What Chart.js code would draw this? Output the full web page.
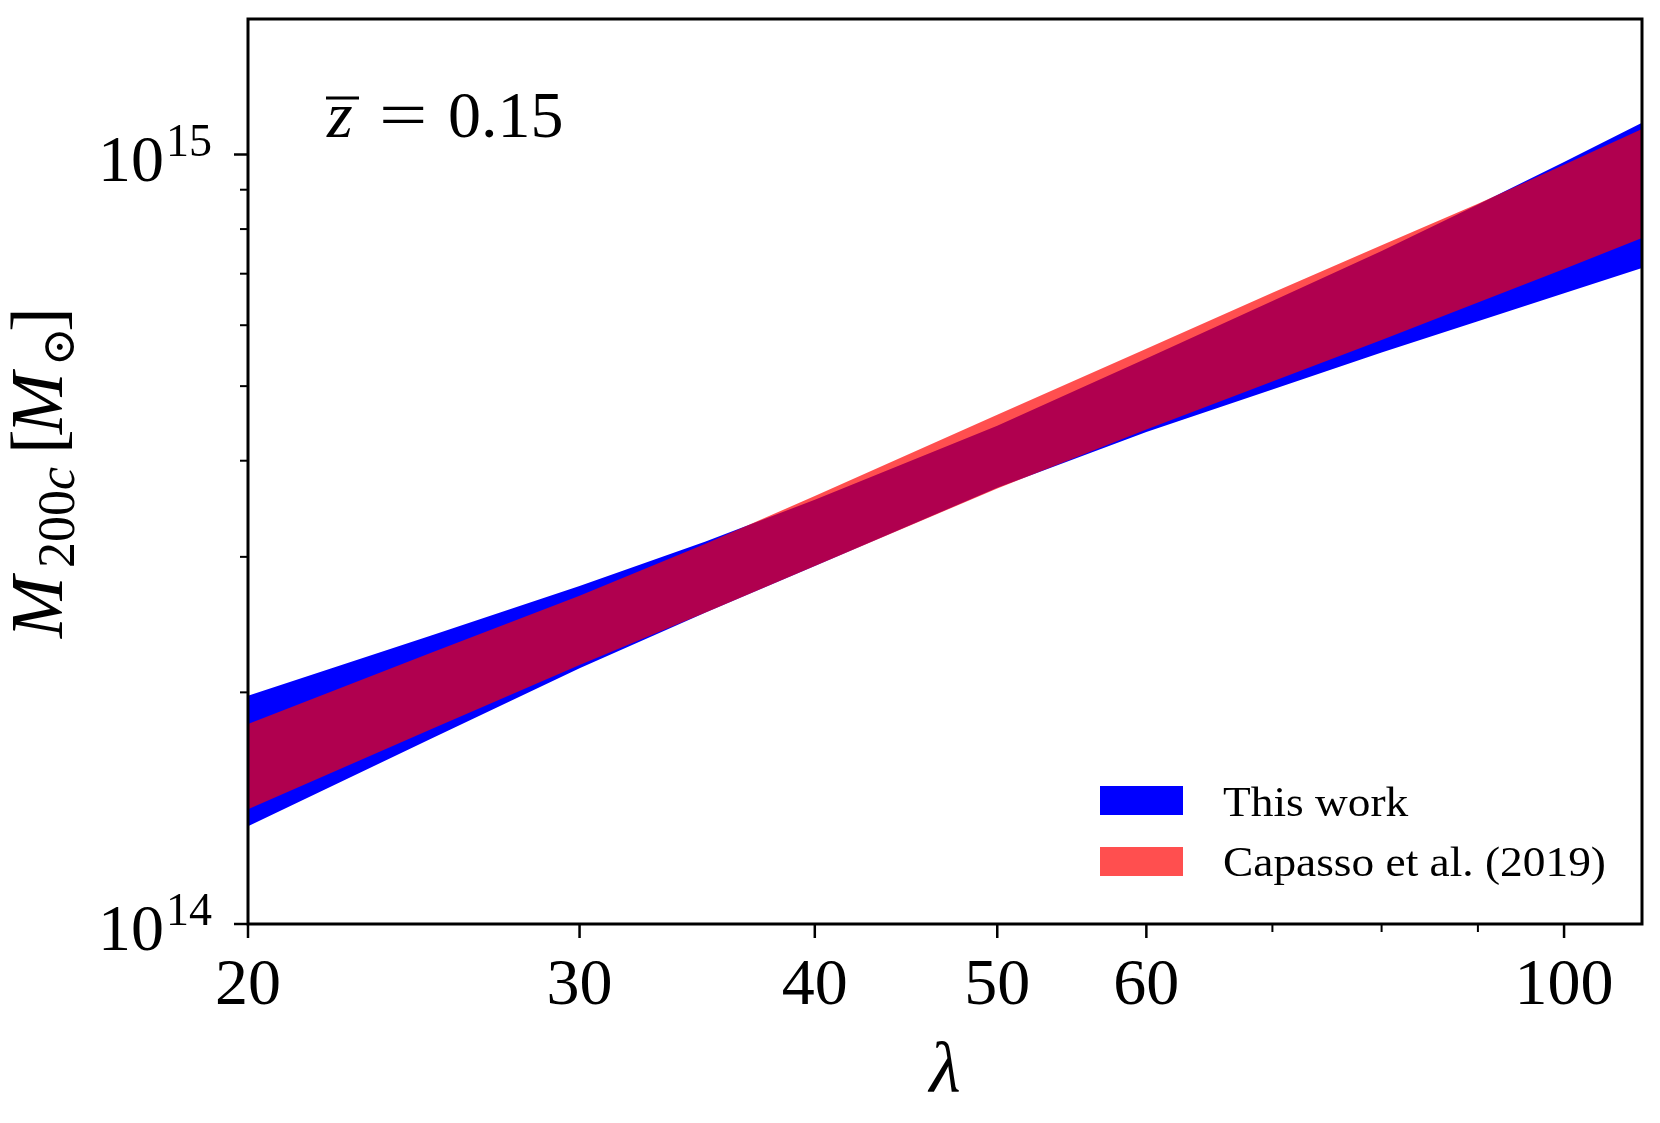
<!DOCTYPE html>
<html>
<head>
<meta charset="utf-8">
<script src="https://cdn.jsdelivr.net/npm/chart.js@4.4.1/dist/chart.umd.min.js"></script>
<style>
  html, body { margin: 0; padding: 0; background: #fff; }
  #wrap { width: 1660px; height: 1123px; position: relative; }
</style>
</head>
<body>
<div id="wrap"><canvas id="chart_mass_richness"></canvas></div>
<script>
// richness values where the band edges were read
const lambdaValues = [20, 25, 30, 35, 40, 50, 60, 70, 80, 90, 100, 110];

// M200c [Msun], upper / lower edge of each band
const thisWorkUpper = [1.98e14, 2.37e14, 2.75e14, 3.14e14, 3.56e14, 4.44e14, 5.43e14, 6.45e14, 7.49e14, 8.61e14, 9.78e14, 1.10e15];
const thisWorkLower = [1.34e14, 1.74e14, 2.15e14, 2.54e14, 2.92e14, 3.69e14, 4.36e14, 4.95e14, 5.53e14, 6.07e14, 6.60e14, 7.12e14];
const capassoUpper = [1.82e14, 2.25e14, 2.67e14, 3.12e14, 3.60e14, 4.59e14, 5.59e14, 6.61e14, 7.62e14, 8.63e14, 9.70e14, 1.079e15];
const capassoLower = [1.41e14, 1.79e14, 2.17e14, 2.54e14, 2.92e14, 3.68e14, 4.39e14, 5.07e14, 5.74e14, 6.42e14, 7.10e14, 7.79e14];

// ticks
const xMajorTicks = [20, 30, 40, 50, 60, 100];
const xMinorTicks = [70, 80, 90];
const yMajorTicks = [1e14, 1e15];
const yMinorTicks = [2e14, 3e14, 4e14, 5e14, 6e14, 7e14, 8e14, 9e14];

const SERIF = "'Liberation Serif', 'DejaVu Serif', serif";
const BLUE = '#0000ff';
const RED = 'rgba(255, 0, 0, 0.69)';

function pts(arr) {
    return lambdaValues.map(function (l, i) { return { x: l, y: arr[i] }; });
}

function bandEdge(label, arr, color, fill, order) {
    return {
        label: label,
        data: pts(arr),
        backgroundColor: color,
        borderColor: 'transparent',
        borderWidth: 0,
        pointRadius: 0,
        tension: 0,
        fill: fill,
        order: order,
    };
}

// text squeezed/stretched sideways (CM is wider than Times)
function wideText(ctx, txt, x, y, sx) {
    ctx.save();
    ctx.translate(x, y);
    ctx.scale(sx, 1);
    ctx.fillText(txt, 0, 0);
    ctx.restore();
}

// frame, ticks, labels, legend and the z annotation
const decorations = {
    id: 'decorations',
    afterDraw(chart) {
        const ctx = chart.ctx;
        const a = chart.chartArea;
        const x = chart.scales.x;
        const y = chart.scales.y;
        ctx.save();
        ctx.fillStyle = '#000';
        ctx.strokeStyle = '#000';

        // frame
        ctx.lineWidth = 3;
        ctx.strokeRect(a.left, a.top, a.right - a.left, a.bottom - a.top);

        // x ticks
        function xTick(v, len, w) {
            const px = x.getPixelForValue(v);
            ctx.lineWidth = w;
            ctx.beginPath();
            ctx.moveTo(px, a.bottom);
            ctx.lineTo(px, a.bottom + len);
            ctx.stroke();
        }
        xMajorTicks.forEach(function (v) { xTick(v, 14, 2.5); });
        xMinorTicks.forEach(function (v) { xTick(v, 8, 2); });

        // y ticks
        function yTick(v, len, w) {
            const py = y.getPixelForValue(v);
            ctx.lineWidth = w;
            ctx.beginPath();
            ctx.moveTo(a.left, py);
            ctx.lineTo(a.left - len, py);
            ctx.stroke();
        }
        yMajorTicks.forEach(function (v) { yTick(v, 14, 2.5); });
        yMinorTicks.forEach(function (v) { yTick(v, 8, 2); });

        // x tick labels
        ctx.font = '66px ' + SERIF;
        ctx.textAlign = 'center';
        ctx.textBaseline = 'alphabetic';
        xMajorTicks.forEach(function (v) {
            ctx.fillText(String(v), x.getPixelForValue(v), a.bottom + 80);
        });

        // y tick labels 10^n
        yMajorTicks.forEach(function (v) {
            const py = y.getPixelForValue(v);
            ctx.font = '66px ' + SERIF;
            ctx.textAlign = 'right';
            ctx.fillText('10', 164, py + 26);
            ctx.font = '46px ' + SERIF;
            ctx.textAlign = 'left';
            ctx.fillText(String(Math.round(Math.log10(v))), 166, py + 1);
        });

        // x title
        ctx.font = 'italic 72px ' + SERIF;
        ctx.textAlign = 'center';
        ctx.fillText('\u03bb', (a.left + a.right) / 2, 1092);

        // y title, rotated
        ctx.save();
        ctx.translate(62, 638);
        ctx.rotate(-Math.PI / 2);
        ctx.textAlign = 'left';
        ctx.font = 'italic 74px ' + SERIF;
        ctx.fillText('M', 0, 0);
        ctx.font = '52px ' + SERIF;
        ctx.fillText('200', 70, 12);
        let w200 = ctx.measureText('200').width;
        ctx.font = 'italic 52px ' + SERIF;
        ctx.fillText('c', 70 + w200, 12);
        ctx.font = '74px ' + SERIF;
        ctx.fillText('[', 184, 0);
        ctx.font = 'italic 74px ' + SERIF;
        ctx.fillText('M', 204, 0);
        ctx.font = '46px ' + SERIF;
        ctx.fillText('\u2299', 272, 12);
        ctx.font = '74px ' + SERIF;
        ctx.fillText(']', 306, 0);
        ctx.restore();

        // annotation z-bar = 0.15
        ctx.textAlign = 'left';
        ctx.font = 'italic 66px ' + SERIF;
        ctx.fillText('z', 327, 137);
        ctx.lineWidth = 3;
        ctx.beginPath();
        ctx.moveTo(326, 98);
        ctx.lineTo(359, 98);
        ctx.stroke();
        ctx.font = '66px ' + SERIF;
        wideText(ctx, '=', 379, 137, 1.3);
        ctx.fillText('0.15', 448, 137);

        // legend
        const entries = [
            { ds: chart.data.datasets[2], top: 786, base: 816 },
            { ds: chart.data.datasets[0], top: 847, base: 876 },
        ];
        ctx.font = '42px ' + SERIF;
        entries.forEach(function (e) {
            ctx.fillStyle = e.ds.backgroundColor;
            ctx.fillRect(1100, e.top, 83, 29);
            ctx.fillStyle = '#000';
            wideText(ctx, e.ds.label, 1223, e.base, 1.08);
        });
        ctx.restore();
    }
};

new Chart("chart_mass_richness", {
    type: "line",
    data: {
        datasets: [
            bandEdge("Capasso et al. (2019)", capassoUpper, RED, '+1', 1),
            bandEdge("Capasso et al. (2019) lower", capassoLower, RED, false, 1),
            bandEdge("This work", thisWorkUpper, BLUE, '+1', 2),
            bandEdge("This work lower", thisWorkLower, BLUE, false, 2),
        ],
    },
    options: {
        responsive: true,
        maintainAspectRatio: false,
        animation: false,
        devicePixelRatio: 1,
        layout: { padding: { top: 19, right: 18, left: 0, bottom: 0 } },
        plugins: {
            legend: { display: false },
            tooltip: { enabled: false },
            title: { display: false },
        },
        scales: {
            x: {
                type: "logarithmic",
                min: 20,
                max: 110,
                grid: { display: false, drawTicks: false },
                border: { display: false },
                ticks: { display: false },
                afterFit: function (s) { s.height = 199; },
            },
            y: {
                type: "logarithmic",
                min: 1e14,
                max: 1.5e15,
                grid: { display: false, drawTicks: false },
                border: { display: false },
                ticks: { display: false },
                afterFit: function (s) { s.width = 248; },
            },
        },
    },
    plugins: [decorations],
});
</script>
</body>
</html>
